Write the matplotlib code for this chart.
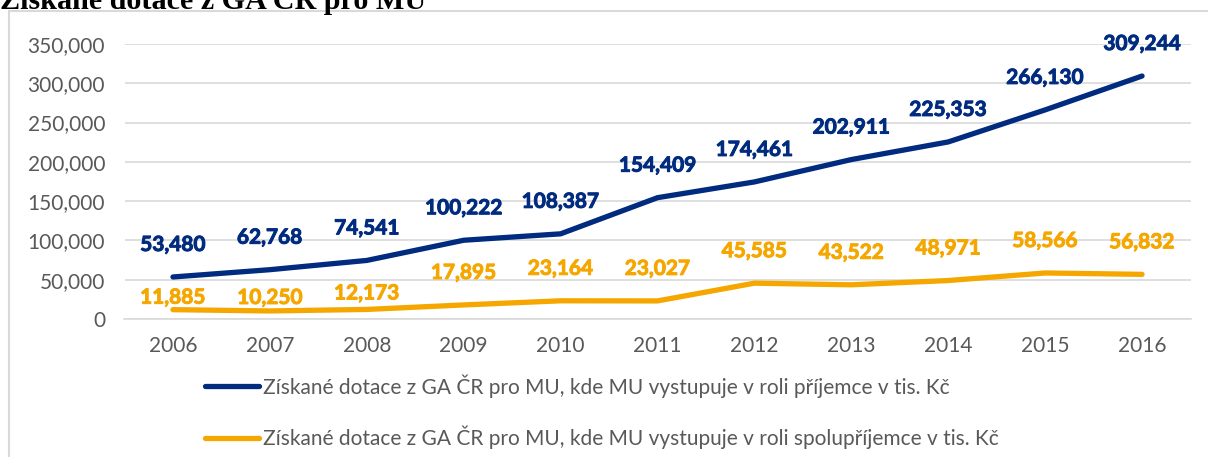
import matplotlib.pyplot as plt
import matplotlib.patheffects as pe
from matplotlib.patches import Rectangle
from matplotlib.ticker import FuncFormatter

years = ['2006', '2007', '2008', '2009', '2010', '2011', '2012', '2013', '2014', '2015', '2016']
prijemce = [53480, 62768, 74541, 100222, 108387, 154409, 174461, 202911, 225353, 266130, 309244]
spoluprijemce = [11885, 10250, 12173, 17895, 23164, 23027, 45585, 43522, 48971, 58566, 56832]

label_prijemce = 'Získané dotace z GA ČR pro MU, kde MU vystupuje v roli příjemce v tis. Kč'
label_spolu = 'Získané dotace z GA ČR pro MU, kde MU vystupuje v roli spolupříjemce v tis. Kč'

# label offsets in pixels (orange first three sit lower)
off_blue = [32] * 11
off_orange = [12, 13, 16, 32, 32, 32, 32, 32, 32, 32, 32]

blue = '#002B7F'
orange = '#F5A700'
gray = '#595959'

plt.rcParams['font.family'] = ['Lato', 'DejaVu Sans']

fig = plt.figure(figsize=(12.08, 4.57), dpi=100)
ax = fig.add_axes([124.5 / 1208, 138 / 457, 1066 / 1208, 275 / 457])

x = list(range(len(years)))
ax.plot(x, prijemce, color=blue, lw=3.8, solid_capstyle='round', label=label_prijemce)
ax.plot(x, spoluprijemce, color=orange, lw=3.8, solid_capstyle='round', label=label_spolu)

for i in x:
    ax.annotate(f'{prijemce[i]:,}', (i, prijemce[i]), xytext=(0, off_blue[i]),
                textcoords='offset pixels', ha='center', va='center',
                fontsize=15, fontweight='bold', color=blue,
                path_effects=[pe.withStroke(linewidth=0.7, foreground=blue)])
    ax.annotate(f'{spoluprijemce[i]:,}', (i, spoluprijemce[i]), xytext=(0, off_orange[i]),
                textcoords='offset pixels', ha='center', va='center',
                fontsize=15, fontweight='bold', color=orange,
                path_effects=[pe.withStroke(linewidth=0.7, foreground=orange)])

ax.set_xlim(-0.5, len(years) - 0.5)
ax.set_ylim(0, 350000)
ax.set_yticks(range(0, 350001, 50000))
ax.yaxis.set_major_formatter(FuncFormatter(lambda v, p: f'{int(v):,}'))
ax.set_xticks(x)
ax.set_xticklabels(years)
ax.grid(axis='y', color='#D9D9D9', lw=1.2)
ax.set_axisbelow(True)
for s in ['top', 'right', 'left']:
    ax.spines[s].set_visible(False)
ax.spines['bottom'].set_color('#D9D9D9')
ax.spines['bottom'].set_linewidth(1.2)
ax.tick_params(axis='both', length=0, labelsize=15, colors=gray)
ax.tick_params(axis='y', pad=14)
ax.tick_params(axis='x', pad=12)

leg = ax.legend(loc='upper left', bbox_to_anchor=(205 / 1208, 1 - 374 / 457),
                bbox_transform=fig.transFigure, frameon=False, fontsize=15,
                handlelength=2.6, handletextpad=0.2, labelspacing=1.35,
                borderaxespad=0, borderpad=0)
for t in leg.get_texts():
    t.set_color(gray)

# chart frame (left and top edges visible)
fig.add_artist(Rectangle((8.5 / 1208, -0.1), 1.2, 1 - 10.5 / 457 + 0.1,
                         transform=fig.transFigure, fill=False,
                         edgecolor='#D9D9D9', lw=1.5))

fig.text(0, 1 - 9 / 457, 'Získané dotace z GA ČR pro MU', fontsize=21.7,
         fontweight='bold', family='Liberation Serif', va='baseline', ha='left')

fig.savefig('out.png', dpi=100)
